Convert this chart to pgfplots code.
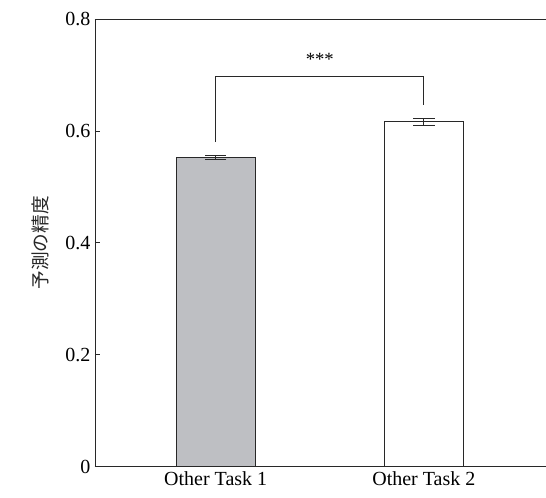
\documentclass[border=0pt]{standalone}
\usepackage{pgfplots}
\pgfplotsset{compat=1.18}
\usepackage{fontspec}
\setmainfont{Liberation Serif}
\newfontfamily\cjk{Noto Sans CJK JP}
\definecolor{bargray}{RGB}{190,191,195}
\definecolor{linegray}{RGB}{40,40,40}
\begin{document}
\begin{tikzpicture}
\begin{axis}[
  scale only axis,
  width=338.25pt, height=335.6pt,
  xmin=-0.58, xmax=1.587,
  ymin=0, ymax=0.8,
  axis x line*=box, axis y line*=left,
  axis line style={linegray, line width=0.7pt},
  xtick={0,1}, xticklabels={Other Task 1, Other Task 2},
  x tick style={draw=none},
  ytick={0,0.2,0.4,0.6,0.8},
  yticklabels={0,0.2,0.4,0.6,0.8},
  y tick style={linegray, line width=0.6pt},
  tick align=inside,
  major tick length=4pt,
  tick label style={font=\fontsize{15}{18}\selectfont},
  /pgf/number format/assume math mode=true,
  ylabel={\cjk 予測の精度},
  ylabel style={at={(axis description cs:-0.122,0.5)}, anchor=center, font=\fontsize{14}{16}\selectfont, text=black!85},
  clip=false,
]
\addplot[ybar, bar width=0.38, fill=bargray, draw=linegray, line width=0.7pt,
  error bars/.cd, y dir=both, y explicit,
  error bar style={linegray, line width=0.6pt},
  error mark options={rotate=90, mark size=8pt, linegray, line width=0.6pt}]
  coordinates {(0,0.5525) +- (0,0.004)};
\addplot[ybar, bar width=0.38, fill=white, draw=linegray, line width=0.7pt,
  error bars/.cd, y dir=both, y explicit,
  error bar style={linegray, line width=0.6pt},
  error mark options={rotate=90, mark size=8pt, linegray, line width=0.6pt}]
  coordinates {(1,0.6163) +- (0,0.0066)};
\addplot[sharp plot, no marks, linegray, line width=0.6pt]
  coordinates {(0,0.580) (0,0.697) (1,0.697) (1,0.647)};
\node[font=\fontsize{14}{16}\selectfont] at (axis cs:0.5,0.727) {***};
\end{axis}
\pgfresetboundingbox
\path (current axis.south west) ++(-71.25pt,-22.9pt) coordinate (bbsw);
\path (current axis.north east) ++(0pt,14.3pt) coordinate (bbne);
\useasboundingbox (bbsw) rectangle (bbne);
\end{tikzpicture}
\end{document}
